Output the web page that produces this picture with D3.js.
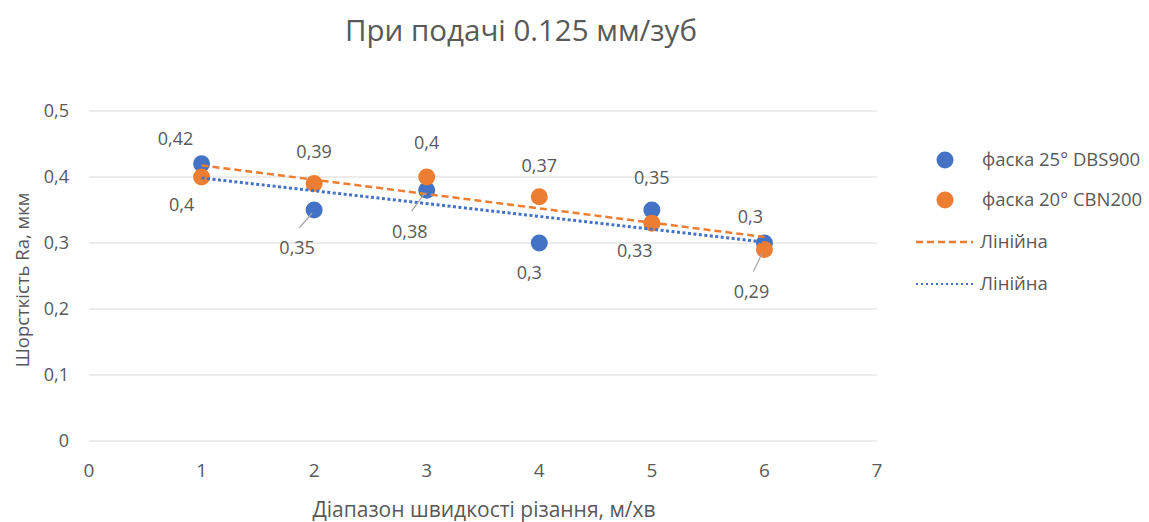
<!DOCTYPE html>
<html>
<head>
<meta charset="utf-8">
<script src="https://cdn.jsdelivr.net/npm/d3@7"></script>
<style>
  body { margin: 0; background: #fff; }
  text { fill: #595959; }
  .narrow { font-family: "Liberation Sans Narrow", "Open Sans", sans-serif; }
  .normal { font-family: "Open Sans", "Noto Sans", sans-serif; }
</style>
</head>
<body>
<div id="chart"></div>
<script>
// data
var speeds = [1, 2, 3, 4, 5, 6];
var dbs900 = [0.42, 0.35, 0.38, 0.3, 0.35, 0.3];
var cbn200 = [0.4, 0.39, 0.4, 0.37, 0.33, 0.29];
var seriesNames = ["фаска 25° DBS900", "фаска 20° CBN200"];
var xTicks = [0, 1, 2, 3, 4, 5, 6, 7];
var yTicks = [0, 0.1, 0.2, 0.3, 0.4, 0.5];

// where each data label sits relative to its marker (dx, dy, leader line)
var blueLabelPos = [[-26, -25, 0], [-17, 38, 1], [-17, 41, 1], [-10, 30, 0], [0, -32, 0], [-14, -26, 0]];
var orangeLabelPos = [[-20, 28, 0], [0, -32, 0], [0, -34, 0], [0, -31, 0], [-17, 27, 0], [-13, 42, 1]];

var width = 1149, height = 522;
var blue = "#4472C4", orange = "#ED7D31";

var svg = d3.select("#chart").append("svg")
    .attr("width", width)
    .attr("height", height);

var x = d3.scaleLinear().domain([0, 7]).range([89, 877]);
var y = d3.scaleLinear().domain([0, 0.5]).range([441, 111]);

function fmt(v) { return String(v).replace(".", ","); }

// least squares line for a series
function linearFit(xs, ys) {
    var mx = d3.mean(xs), my = d3.mean(ys);
    var sxy = d3.sum(xs, (v, i) => (v - mx) * (ys[i] - my));
    var sxx = d3.sum(xs, v => (v - mx) * (v - mx));
    var b = sxy / sxx;
    return v => my + b * (v - mx);
}

// title
svg.append("text")
    .attr("class", "narrow")
    .attr("x", 521).attr("y", 41)
    .attr("text-anchor", "middle")
    .style("font-size", "29.5px")
    .text("При подачі 0.125 мм/зуб");

// grid
svg.append("g").selectAll("line")
    .data(yTicks).enter().append("line")
    .attr("x1", x(0)).attr("x2", x(7))
    .attr("y1", d => y(d)).attr("y2", d => y(d))
    .style("stroke", "#d9d9d9").style("stroke-width", 1.2);

// y tick labels
svg.append("g").selectAll("text")
    .data(yTicks).enter().append("text")
    .attr("class", "normal")
    .attr("x", 69).attr("y", d => y(d))
    .attr("dy", "0.35em")
    .attr("text-anchor", "end")
    .style("font-size", "18px")
    .text(d => fmt(d));

// x tick labels
svg.append("g").selectAll("text")
    .data(xTicks).enter().append("text")
    .attr("class", "narrow")
    .attr("x", d => x(d)).attr("y", 477)
    .attr("text-anchor", "middle")
    .style("font-size", "19px")
    .text(d => d);

// axis titles
svg.append("text")
    .attr("class", "narrow")
    .attr("x", 484).attr("y", 517)
    .attr("text-anchor", "middle")
    .style("font-size", "21px")
    .text("Діапазон швидкості різання, м/хв");

svg.append("text")
    .attr("class", "normal")
    .attr("transform", "translate(29,280) rotate(-90)")
    .attr("text-anchor", "middle")
    .style("font-size", "18.5px")
    .text("Шорсткість Ra, мкм");

// markers
var series = [
    { values: dbs900, color: blue, labels: blueLabelPos },
    { values: cbn200, color: orange, labels: orangeLabelPos }
];

series.forEach(function (s) {
    svg.append("g").selectAll("circle")
        .data(s.values).enter().append("circle")
        .attr("cx", (d, i) => x(speeds[i]))
        .attr("cy", d => y(d))
        .attr("r", 8.5)
        .style("fill", s.color);
});

// trend lines
var line = d3.line().x(d => x(d[0])).y(d => y(d[1]));
var fitO = linearFit(speeds, cbn200);
var fitB = linearFit(speeds, dbs900);
var ends = [speeds[0], speeds[speeds.length - 1]];

svg.append("path")
    .attr("d", line(ends.map(v => [v, fitO(v)])))
    .style("fill", "none").style("stroke", orange)
    .style("stroke-width", 2.5).style("stroke-dasharray", "7,4");

svg.append("path")
    .attr("d", line(ends.map(v => [v, fitB(v)])))
    .style("fill", "none").style("stroke", blue)
    .style("stroke-width", 3).style("stroke-dasharray", "3,2.5");

// data labels and leader lines
series.forEach(function (s) {
    var g = svg.append("g");
    s.values.forEach(function (v, i) {
        var px = x(speeds[i]), py = y(v);
        var p = s.labels[i];
        var lx = px + p[0], ly = py + p[1];
        if (p[2]) {
            g.append("line")
                .attr("x1", lx + 2).attr("y1", ly - 20)
                .attr("x2", px - 2).attr("y2", py + 3)
                .style("stroke", "#a6a6a6").style("stroke-width", 1.2);
        }
        g.append("text")
            .attr("class", "normal")
            .attr("x", lx).attr("y", ly)
            .attr("dy", "0.35em")
            .attr("text-anchor", "middle")
            .style("font-size", "18px")
            .text(fmt(v));
    });
});

// legend
var legend = svg.append("g");
seriesNames.forEach(function (name, i) {
    var ly = 160 + i * 40;
    legend.append("circle")
        .attr("cx", 945).attr("cy", ly).attr("r", 8.5)
        .style("fill", series[i].color);
    legend.append("text")
        .attr("class", "normal")
        .attr("x", 982).attr("y", ly).attr("dy", "0.35em")
        .style("font-size", "18.5px")
        .text(name);
});

var trendLegend = [
    { color: orange, dash: "7,4", w: 2.5 },
    { color: blue, dash: "2,3", w: 2 }
];
trendLegend.forEach(function (t, i) {
    var ly = 242 + i * 42;
    legend.append("line")
        .attr("x1", 916).attr("x2", 973)
        .attr("y1", ly).attr("y2", ly)
        .style("stroke", t.color).style("stroke-width", t.w)
        .style("stroke-dasharray", t.dash);
    legend.append("text")
        .attr("class", "normal")
        .attr("x", 980).attr("y", ly).attr("dy", "0.35em")
        .style("font-size", "18.5px")
        .text("Лінійна");
});
</script>
</body>
</html>
